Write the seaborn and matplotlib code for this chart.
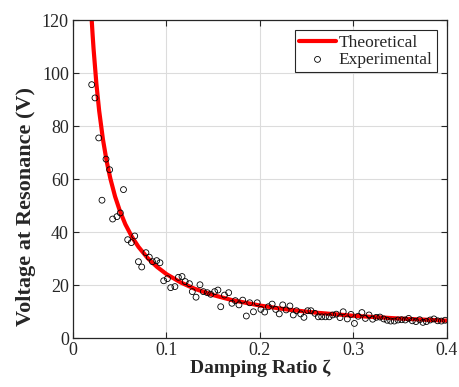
import numpy as np
import pandas as pd
import seaborn as sns
import matplotlib
matplotlib.use('Agg')
import matplotlib.pyplot as plt

# theoretical curve, values
zeta_theory = [0.020, 0.021, 0.022, 0.025, 0.028, 0.032, 0.036, 0.040, 0.045, 0.050,
               0.056, 0.063, 0.070, 0.080, 0.090, 0.100, 0.115, 0.130, 0.150, 0.170,
               0.200, 0.230, 0.260, 0.300, 0.350, 0.400]
volt_theory = [120.0, 114.3, 109.1, 96.0, 85.7, 75.0, 66.7, 60.1, 53.4, 48.1,
               42.9, 38.2, 34.4, 30.1, 26.8, 24.1, 21.0, 18.6, 16.2, 14.3,
               12.25, 10.7, 9.56, 8.39, 7.32, 6.55]

# experimental points
zeta_exp = [0.020, 0.0235, 0.0275, 0.031, 0.0353, 0.0392, 0.0424, 0.047, 0.0506, 0.054,
            0.0585, 0.0624, 0.066, 0.070, 0.0735, 0.078, 0.0816, 0.085, 0.0895, 0.093,
            0.097, 0.101, 0.1045, 0.109, 0.1127, 0.1166, 0.120, 0.1245, 0.1276, 0.1316,
            0.1358, 0.1394, 0.1436, 0.1473, 0.1515, 0.155, 0.158, 0.162, 0.1665, 0.170,
            0.1736, 0.1775, 0.1815, 0.1854, 0.189, 0.193, 0.197, 0.201, 0.205, 0.209,
            0.213, 0.2168, 0.2206, 0.2243, 0.228, 0.232, 0.2356, 0.239, 0.2435, 0.247,
            0.251, 0.2545, 0.2588, 0.2624, 0.266, 0.270, 0.274, 0.2777, 0.2816, 0.2856,
            0.289, 0.2934, 0.2973, 0.301, 0.305, 0.309, 0.3127, 0.3166, 0.3205, 0.3244,
            0.3283, 0.3323, 0.336, 0.3398, 0.3437, 0.3476, 0.3515, 0.3554, 0.359, 0.3629,
            0.3668, 0.3708, 0.3743, 0.378, 0.382, 0.386, 0.390, 0.394, 0.398]
volt_exp = [95.6, 90.6, 75.5, 52.0, 67.5, 63.5, 44.9, 45.8, 47.2, 56.0,
            37.1, 36.0, 38.5, 28.8, 26.8, 32.2, 30.5, 28.8, 29.2, 28.4,
            21.6, 22.4, 19.0, 19.4, 22.9, 23.2, 21.3, 20.5, 17.5, 15.4,
            20.1, 17.5, 17.1, 16.5, 17.5, 18.1, 11.8, 16.2, 17.1, 13.1,
            14.1, 12.5, 14.3, 8.3, 13.3, 9.9, 13.3, 10.8, 9.8, 11.8,
            12.8, 10.8, 9.1, 12.5, 10.6, 12.1, 8.7, 10.3, 9.1, 7.8,
            10.3, 10.3, 9.3, 8.0, 8.0, 8.0, 8.0, 8.7, 9.0, 7.7,
            9.9, 7.2, 8.9, 5.5, 8.2, 9.6, 7.4, 8.7, 7.1, 7.8,
            7.9, 7.2, 6.7, 6.4, 6.4, 6.8, 6.9, 6.8, 7.4, 6.5,
            6.2, 6.9, 5.9, 6.2, 6.8, 7.2, 6.5, 6.4, 6.7]

sns.set_style('whitegrid')
plt.rcParams['font.family'] = ['Liberation Serif', 'DejaVu Serif']

fig = plt.figure(figsize=(4.6, 3.87), dpi=100)
ax = fig.add_axes([0.1587, 0.1266, 0.9717 - 0.1587, 0.9483 - 0.1266])

df_t = pd.DataFrame({'zeta': zeta_theory, 'V': volt_theory})
df_e = pd.DataFrame({'zeta': zeta_exp, 'V': volt_exp})

sns.lineplot(data=df_t, x='zeta', y='V', ax=ax, color='#ff0000', linewidth=3.0,
             label='Theoretical', zorder=2)
sns.scatterplot(data=df_e, x='zeta', y='V', ax=ax, marker='o', s=18,
                facecolor='none', edgecolor='black', linewidth=0.6,
                label='Experimental', zorder=3)

ax.set_xlim(0, 0.4)
ax.set_ylim(0, 120)
ax.set_xticks([0, 0.1, 0.2, 0.3, 0.4])
ax.set_xticklabels(['0', '0.1', '0.2', '0.3', '0.4'])
ax.set_yticks([0, 20, 40, 60, 80, 100, 120])

ax.grid(True, color='#dcdcdc', linewidth=0.8)
for s in ax.spines.values():
    s.set_visible(True)
    s.set_color('#262626')
    s.set_linewidth(0.9)
ax.set_facecolor('white')
ax.tick_params(direction='in', length=4, width=0.8, colors='#262626',
               labelsize=13, top=True, right=True, bottom=True, left=True,
               labelcolor='#262626', pad=3)

ax.set_xlabel('Damping Ratio ζ', fontsize=14, fontweight='bold', color='#262626', labelpad=0)
ax.set_ylabel('Voltage at Resonance (V)', fontsize=16, fontweight='bold', color='#262626')
ax.yaxis.set_label_coords(-0.098, 0.415)

leg = ax.legend(loc='upper right', fontsize=12.5, frameon=True, fancybox=False,
                edgecolor='#262626', framealpha=1, borderpad=0.25, labelspacing=0.05,
                handlelength=2.1, handletextpad=0.15, borderaxespad=0.6)
leg.get_frame().set_linewidth(0.8)

fig.savefig('out.png', dpi=100)
